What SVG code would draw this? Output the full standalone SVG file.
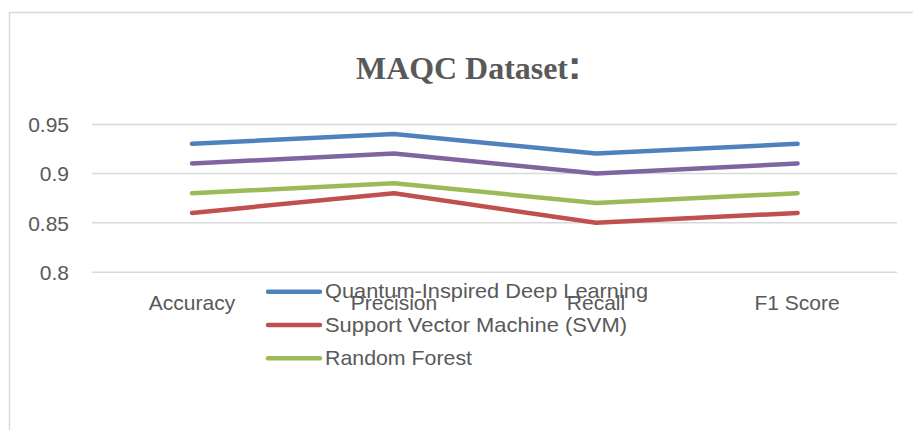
<svg xmlns="http://www.w3.org/2000/svg" width="913" height="430" viewBox="0 0 913 430">
  <style>
    .frame { fill: none; stroke: #D9D9D9; stroke-width: 1.5; }
    .grid { stroke: #D9D9D9; stroke-width: 1.5; }
    .axis { font-family: "Liberation Sans", Arial, sans-serif; font-size: 21px; fill: #595959; }
    .title { font-family: "Liberation Serif", "Times New Roman", serif; font-size: 32px; font-weight: bold; fill: #595959; }
    .series { fill: none; stroke-width: 4.5; stroke-linecap: round; stroke-linejoin: round; }
    .qidl { stroke: #4F81BD; }
    .svm { stroke: #C0504D; }
    .rf { stroke: #9BBB59; }
    .extra { stroke: #8064A2; }
  </style>
  <rect width="913" height="430" fill="#FFFFFF"/>
  <!-- chart frame (continues past the right and bottom edges) -->
  <path class="frame" d="M9.5,431 V12.5 H914"/>

  <!-- title -->
  <text class="title" x="356" y="78.5"><tspan textLength="212" lengthAdjust="spacingAndGlyphs">MAQC Dataset</tspan><tspan font-family="'Liberation Sans', Arial, sans-serif" font-size="40">:</tspan></text>

  <!-- horizontal gridlines -->
  <g id="gridlines">
    <line class="grid" x1="92" y1="124.5" x2="897" y2="124.5"/>
    <line class="grid" x1="92" y1="173.5" x2="897" y2="173.5"/>
    <line class="grid" x1="92" y1="222.8" x2="897" y2="222.8"/>
    <line class="grid" x1="92" y1="272.2" x2="897" y2="272.2"/>
  </g>

  <!-- value axis labels -->
  <g id="y-axis" class="axis" text-anchor="end">
    <text x="69" y="132">0.95</text>
    <text x="69" y="181">0.9</text>
    <text x="69" y="230.5">0.85</text>
    <text x="69" y="280">0.8</text>
  </g>

  <!-- data series: y = 272.2 - (v - 0.8) * 988 -->
  <g id="connectors">
    <polyline id="series-qidl" class="series qidl" points="192,143.8 394,133.9 596,153.6 797.6,143.8"/>
    <polyline id="series-extra" class="series extra" points="192,163.5 394,153.6 596,173.4 797.6,163.5"/>
    <polyline id="series-rf" class="series rf" points="192,193.2 394,183.3 596,203.0 797.6,193.2"/>
    <polyline id="series-svm" class="series svm" points="192,212.9 394,193.2 596,222.8 797.6,212.9"/>
  </g>

  <!-- category axis labels -->
  <g id="x-axis" class="axis" text-anchor="middle">
    <text x="192" y="310">Accuracy</text>
    <text x="394" y="310">Precision</text>
    <text x="596" y="310">Recall</text>
    <text x="797" y="310">F1 Score</text>
  </g>

  <!-- legend -->
  <g id="legend">
    <g id="legend-qidl">
      <line class="series qidl" x1="268" y1="291.7" x2="320" y2="291.7"/>
      <text class="axis" x="325" y="298" textLength="323" lengthAdjust="spacingAndGlyphs">Quantum-Inspired Deep Learning</text>
    </g>
    <g id="legend-svm">
      <line class="series svm" x1="268" y1="325" x2="320" y2="325"/>
      <text class="axis" x="325" y="331.5" textLength="302" lengthAdjust="spacingAndGlyphs">Support Vector Machine (SVM)</text>
    </g>
    <g id="legend-rf">
      <line class="series rf" x1="268" y1="358.3" x2="320" y2="358.3"/>
      <text class="axis" x="325" y="365" textLength="147" lengthAdjust="spacingAndGlyphs">Random Forest</text>
    </g>
  </g>
</svg>
